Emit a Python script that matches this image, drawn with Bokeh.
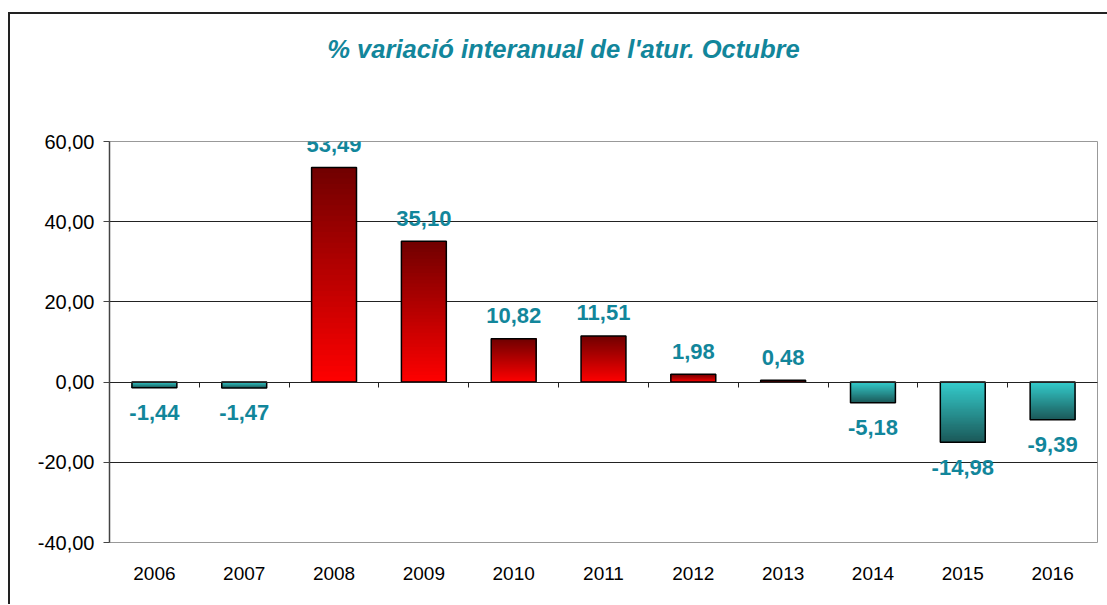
from bokeh.plotting import figure
from bokeh.models import FixedTicker, LinearAxis, Range1d, Div
from bokeh.layouts import column
from bokeh.embed import file_html
from bokeh.resources import INLINE

years = ["2006", "2007", "2008", "2009", "2010", "2011", "2012", "2013", "2014", "2015", "2016"]
values = [-1.44, -1.47, 53.49, 35.10, 10.82, 11.51, 1.98, 0.48, -5.18, -14.98, -9.39]
y_ticks = [-40, -20, 0, 20, 40, 60]
title_text = "% variació interanual de l'atur. Octubre"

FONT = "Liberation Sans"
TEAL = "#12869b"

title = Div(text=title_text, width=1095, height=70,
            styles={"font-family": FONT, "font-size": "25.6px", "font-weight": "bold",
                    "font-style": "italic", "color": TEAL, "text-align": "center",
                    "line-height": "30px", "padding-top": "15px", "padding-left": "2px",
                    "box-sizing": "border-box", "width": "1095px"})

p = figure(width=1095, height=510, output_backend="svg", toolbar_location=None,
           x_range=Range1d(-0.5, len(years) - 0.5), y_range=Range1d(-40, 60),
           min_border_left=99, min_border_right=8, min_border_top=47, min_border_bottom=62)

p.outline_line_color = "#999999"
p.outline_line_width = 1
p.xgrid.grid_line_color = None
p.ygrid.ticker = FixedTicker(ticks=[t for t in y_ticks if t != y_ticks[0]])
p.ygrid.grid_line_color = "#222222"
p.ygrid.grid_line_width = 1

# y axis
p.yaxis.ticker = FixedTicker(ticks=y_ticks)
p.yaxis.major_label_overrides = {t: f"{t:.2f}".replace(".", ",") for t in y_ticks}
p.yaxis.major_label_text_font = FONT
p.yaxis.major_label_text_font_size = "20px"
p.yaxis.major_label_text_color = "#000000"
p.yaxis.axis_line_color = "#444444"
p.yaxis.axis_line_width = 1.5
p.yaxis.major_tick_line_color = "#444444"
p.yaxis.major_tick_in = 0
p.yaxis.major_tick_out = 6
p.yaxis.minor_tick_line_color = None
p.yaxis.major_label_standoff = 9

# x axis labels at bottom
p.xaxis.ticker = FixedTicker(ticks=list(range(len(years))))
p.xaxis.major_label_overrides = {i: y for i, y in enumerate(years)}
p.xaxis.major_label_text_font = FONT
p.xaxis.major_label_text_font_size = "19px"
p.xaxis.major_label_text_color = "#000000"
p.xaxis.axis_line_color = None
p.xaxis.major_tick_line_color = None
p.xaxis.minor_tick_line_color = None
p.xaxis.major_label_standoff = 18

# zero line with category boundary ticks
zero_axis = LinearAxis(fixed_location=0, ticker=FixedTicker(ticks=[i + 0.5 for i in range(len(years) - 1)]))
zero_axis.major_label_text_font_size = "0px"
zero_axis.major_label_text_color = None
zero_axis.axis_line_color = "#222222"
zero_axis.axis_line_width = 1
zero_axis.major_tick_line_color = "#222222"
zero_axis.major_tick_in = 0
zero_axis.major_tick_out = 5
zero_axis.minor_tick_line_color = None
p.add_layout(zero_axis, "below")


def lerp(c0, c1, f):
    a = [int(c0[i:i + 2], 16) for i in (1, 3, 5)]
    b = [int(c1[i:i + 2], 16) for i in (1, 3, 5)]
    return "#%02x%02x%02x" % tuple(int(round(a[k] + (b[k] - a[k]) * f)) for k in range(3))


# gradient: overlapping slices, each from its start to the bar end (no seams)
N = 40
BW = 0.5
lefts, rights, bottoms, tops, colors = [], [], [], [], []
for i, v in enumerate(values):
    if v >= 0:
        c_base, c_end = "#ff0000", "#700000"
    else:
        c_base, c_end = "#34cccc", "#1b5858"
    for k in range(N):
        lefts.append(i - BW / 2)
        rights.append(i + BW / 2)
        bottoms.append(v * k / N)
        tops.append(v)
        colors.append(lerp(c_base, c_end, (k + 0.5) / N))
p.quad(left=lefts, right=rights, bottom=bottoms, top=tops, fill_color=colors, line_color=None)
xs = list(range(len(values)))
p.quad(left=[x - BW / 2 for x in xs], right=[x + BW / 2 for x in xs],
       bottom=[0] * len(values), top=values, fill_color=None, line_color="#000000", line_width=1.5)

pos_x = [i for i, v in enumerate(values) if v >= 0]
pos_v = [v for v in values if v >= 0]
neg_x = [i for i, v in enumerate(values) if v < 0]
neg_v = [v for v in values if v < 0]
fmt = lambda v: f"{v:.2f}".replace(".", ",")
p.text(x=pos_x, y=pos_v, text=[fmt(v) for v in pos_v], text_align="center", text_baseline="middle",
       y_offset=-23, text_font_size="22px", text_font_style="bold", text_color=TEAL,
       text_font={"value": FONT})
p.text(x=neg_x, y=neg_v, text=[fmt(v) for v in neg_v], text_align="center", text_baseline="middle",
       y_offset=25, text_font_size="22px", text_font_style="bold", text_color=TEAL,
       text_font={"value": FONT})

layout = column(title, p, spacing=0,
                styles={"border-left": "2px solid #222", "border-top": "2px solid #222",
                        "margin-top": "12px", "margin-left": "8px"})

open("out.html", "w").write(file_html(layout, INLINE))
